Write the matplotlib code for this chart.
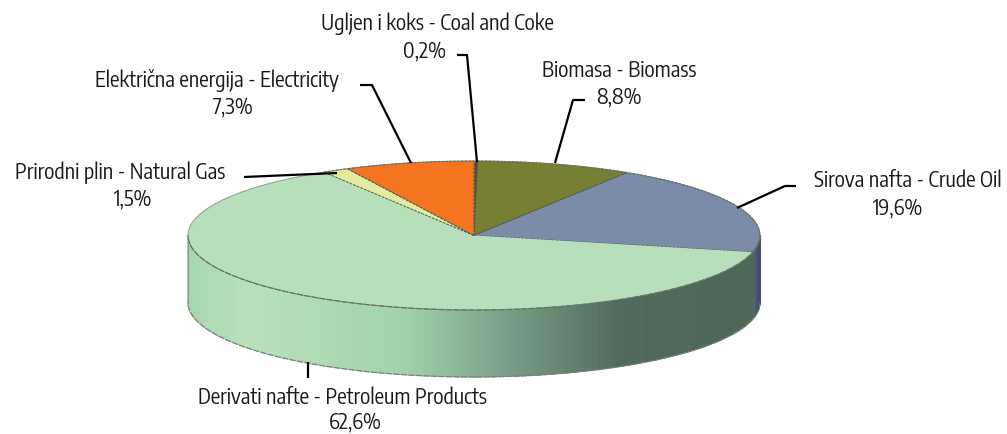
import numpy as np
import matplotlib
matplotlib.use("Agg")
import matplotlib.pyplot as plt
from matplotlib.collections import PolyCollection
from matplotlib.colors import LinearSegmentedColormap

# Data, clockwise from 12 o'clock
names = ["Ugljen i koks - Coal and Coke", "Biomasa - Biomass", "Sirova nafta - Crude Oil",
         "Derivati nafte - Petroleum Products", "Prirodni plin - Natural Gas",
         "Električna energija - Electricity"]
labels = ["0,2%", "8,8%", "19,6%", "62,6%", "1,5%", "7,3%"]
values = [0.2, 8.8, 19.6, 62.6, 1.5, 7.3]
colors = ["#7a3b1c", "#767f32", "#7b8ba8", "#b8dfbc", "#e6ea9c", "#f57420"]

CX, CY, RX, RY, DEPTH = 474, 235.5, 286, 74.5, 67
plt.rcParams['font.family'] = ['Encode Sans Condensed', 'Lato', 'DejaVu Sans']

fig = plt.figure(figsize=(10.07, 4.34), dpi=100)
ax = fig.add_axes([0, 0, 1, 1])
ax.set_xlim(0, 1007)
ax.set_ylim(434, 0)
ax.axis("off")


def rim(t):
    return CX + RX * np.sin(t), CY - RY * np.cos(t)


edges = np.concatenate([[0], np.cumsum(values)]) / sum(values) * 2 * np.pi

green_side = LinearSegmentedColormap.from_list("g", [
    (0.00, "#a6d8b0"), (0.10, "#b9e0bd"), (0.38, "#a0d2aa"), (0.55, "#7c9f88"),
    (0.76, "#50685a"), (1.00, "#4e6757")])
blue_side = LinearSegmentedColormap.from_list("b", ["#4a5a5e", "#3f4c62", "#55647e"])

# front wall, one narrow strip per step along the rim
quads, cols = [], []
ts = np.linspace(np.pi / 2, 3 * np.pi / 2, 500)
for a, b in zip(ts[:-1], ts[1:]):
    xa, ya = rim(a)
    xb, yb = rim(b)
    quads.append([(xa, ya), (xb, yb), (xb, yb + DEPTH), (xa, ya + DEPTH)])
    m = (a + b) / 2
    xm = rim(m)[0]
    if m < edges[3]:
        cols.append(blue_side((m - np.pi / 2) / (edges[3] - np.pi / 2)))
    else:
        cols.append(green_side((xm - (CX - RX)) / (2 * RX)))
ax.add_collection(PolyCollection(quads, facecolors=cols, edgecolors=cols, linewidths=0.6, zorder=1))

# wall outline
xb, yb = rim(ts)
ax.plot(xb, yb + DEPTH, color="#77807a", lw=0.9, ls=(0, (5, 1)), zorder=2)
ax.plot(xb, yb, color="#5d6a60", lw=0.9, ls=(0, (5, 1)), zorder=4)
ax.plot([CX - RX, CX - RX], [CY, CY + DEPTH], color="#8a9a8e", lw=0.8, zorder=2)
ax.plot([CX + RX, CX + RX], [CY, CY + DEPTH], color="#4a5566", lw=0.8, zorder=2)

# top face
for i, c in enumerate(colors):
    t = np.linspace(edges[i], edges[i + 1], 120)
    x, y = rim(t)
    px = np.concatenate([[CX], x])
    py = np.concatenate([[CY], y])
    ax.fill(px, py, facecolor=c, edgecolor="#4d5a50" if i != 3 else "none", lw=0.7,
            ls=(0, (3, 1)), zorder=3)
tt = np.linspace(0, 2 * np.pi, 400)
ax.plot(*rim(tt), color="#6e7a72", lw=0.7, alpha=0.7, zorder=4)

# leader lines and label anchors
leaders = [
    [(477, 162), (467, 55), (457, 55)],
    [(555, 163), (573, 100), (585, 100)],
    [(737, 208), (785, 186), (796, 186)],
    [(308, 362), (308, 378)],
    [(337, 173), (244, 177)],
    [(411, 163), (372, 85), (360, 85)],
]
name_pos = [(437, 24), (619.5, 71), (908, 181), (342, 398), (120, 172.5), (217, 80)]
lab_pos = [(425, 51), (619, 97), (898, 208), (355, 422.5), (133, 199), (233, 107)]
for pts, name, lab, (nx, ny), (lx, ly) in zip(leaders, names, labels, name_pos, lab_pos):
    ax.plot(*zip(*pts), color="black", lw=1.6, solid_joinstyle="round", solid_capstyle="butt", zorder=5)
    ax.text(nx, ny, name, ha="center", va="center", fontsize=15.4, color="#1a1a1a")
    ax.text(lx, ly, lab, ha="center", va="center", fontsize=15.4, color="#1a1a1a")

fig.savefig("out.png", dpi=100, facecolor="white")
